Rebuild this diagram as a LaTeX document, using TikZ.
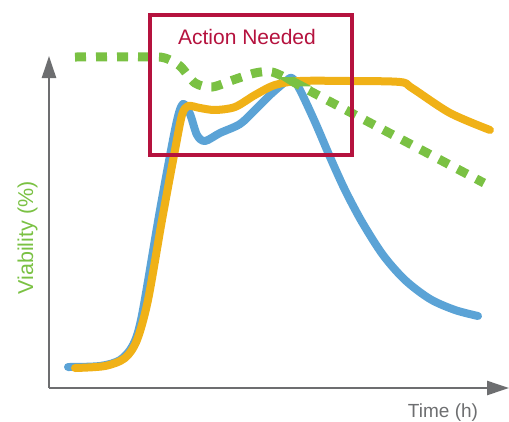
\documentclass[tikz,border=0pt]{standalone}
\usepackage{fontspec}
\setmainfont{Liberation Sans}
\usetikzlibrary{arrows.meta}

\definecolor{axisgray}{HTML}{6D6E70}
\definecolor{viagreen}{HTML}{7AC143}
\definecolor{cellblue}{HTML}{5BA3D6}
\definecolor{cellgold}{HTML}{F0B117}
\definecolor{alertred}{HTML}{B5123E}

\begin{document}
\begin{tikzpicture}[
  x=1pt, y=-1pt,
  axis/.style={draw=axisgray, line width=2.5pt},
  curve/.style={line width=8pt, line cap=round, line join=round},
  >={Triangle[length=22pt, width=14pt]}
]
\useasboundingbox (0,0) rectangle (509,421);

% Axes
\coordinate (origin) at (49,388);
\coordinate (ytip) at (49,56);
\coordinate (xtip) at (509,388);
\draw[axis, ->] (origin) -- (ytip);
\draw[axis, ->] (origin) -- (xtip);
\node[rotate=90, anchor=base, text=viagreen, font=\fontsize{21.5}{24}\selectfont] (ylabel) at (33,238) {Viability (\%)};
\node[anchor=base, text=axisgray, font=\fontsize{19}{22}\selectfont] (xlabel) at (443,417) {Time (h)};

% Curves
\draw[curve, cellblue] plot[smooth, tension=0.5] coordinates {
  (68,367) (100,366) (120,360) (133,345) (142,315) (160,210) (176,125) (183,104)
  (190,114) (197,135) (205,141) (220,133) (240,124) (255,110) (270,95) (285,82)
  (292,78) (300,90) (315,122) (330,157) (345,190) (362,222) (383,255) (405,280)
  (430,299) (455,310) (478,316)};
\draw[curve, cellgold] plot[smooth, tension=0.5] coordinates {
  (75,368) (105,366) (125,358) (137,340) (148,300) (162,220) (175,150) (182,115)
  (188,106) (200,108) (215,110) (235,107) (255,95) (275,85) (300,81) (350,81)
  (400,82) (412,88) (450,113) (490,130)};
\draw[viagreen, line width=9pt, dash pattern=on 11pt off 10pt] plot[smooth, tension=0.5] coordinates {
  (75,57) (150,57) (165,58) (180,66) (195,83) (212,87) (233,80) (255,73) (272,72)
  (292,81) (310,91) (484,183)};

% Alert box
\node[draw=alertred, line width=4pt, minimum width=202pt, minimum height=140pt, anchor=north west, inner sep=0pt] (alert) at (148,13) {};
\node[anchor=base, text=alertred, font=\fontsize{21}{24}\selectfont] (alertlabel) at (247,44) {Action Needed};

\end{tikzpicture}
\end{document}
